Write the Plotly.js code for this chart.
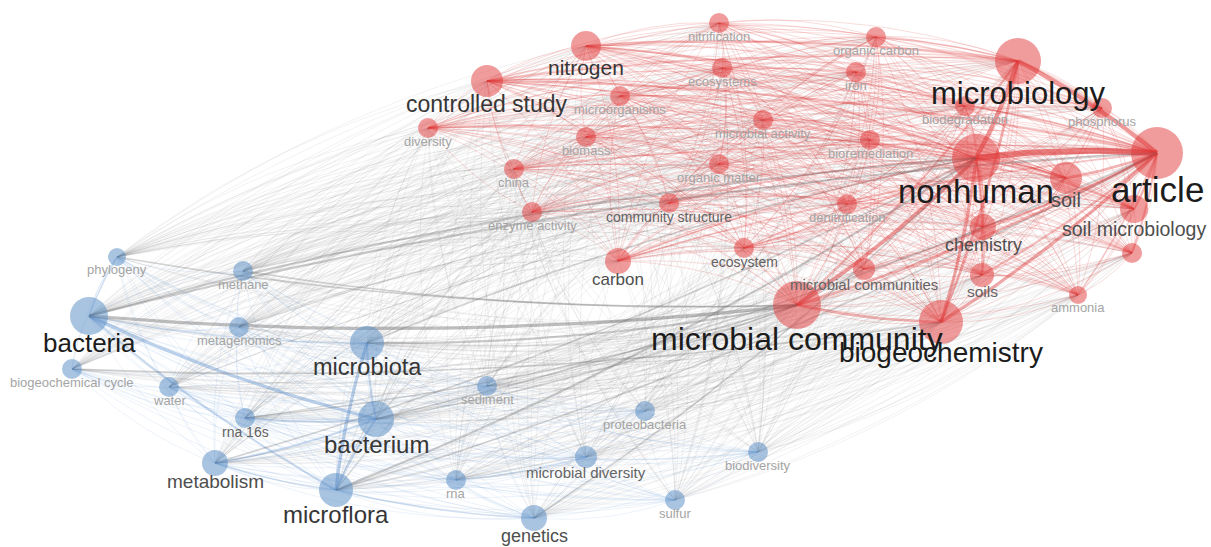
<!DOCTYPE html>
<html><head><meta charset="utf-8">
<script src="https://cdn.plot.ly/plotly-3.0.1.min.js"></script>
<style>html,body{margin:0;padding:0;background:#fff}#chart{width:1211px;height:547px}</style>
</head><body><div id="chart"></div>
<script>
// ---- node data (map coordinates) ----
const labels = ["nitrogen","controlled study","nitrification","organic carbon","microbiology","ecosystems","iron","microorganisms","biodegradation","phosphorus","diversity","biomass","microbial activity","bioremediation","nonhuman","article","organic matter","china","soil","community structure","enzyme activity","denitrification","soil microbiology","chemistry","ecosystem","carbon","","microbial communities","soils","ammonia","microbial community","biogeochemistry",
"phylogeny","methane","bacteria","metagenomics","microbiota","biogeochemical cycle","water","sediment","bacterium","rna 16s","proteobacteria","metabolism","biodiversity","microbial diversity","rna","microflora","sulfur","genetics"];
const mapX = [586,487,719,876,1018,722,856,620,965,1102,428,586,763,870,976,1157,719,514,1066,669,532,847,1134,983,744,618,1132,864,982,1078,797,941,
117,243,89,239,367,72,169,487,376,245,645,215,758,586,456,336,675,534];
const mapY = [46,81,23,37,61,68,72,96,106,108,128,137,120,140,158,153,164,169,178,203,212,204,209,227,248,261,253,269,275,295,305,322,
257,271,316,327,343,369,387,386,419,418,411,463,452,457,480,490,500,518];
const weights = [15,16,10,10,23,10,10,10,10,10,10,10,10,10,24,26,10,10,16,10,10,10,14,13,10,13,10,11,12,9,24,22,
9,10,19,10,17,10,10,10,18,10,10,13,10,11,10,17,10,13];
const clusters = [1,1,1,1,1,1,1,1,1,1,1,1,1,1,1,1,1,1,1,1,1,1,1,1,1,1,1,1,1,1,1,1,
2,2,2,2,2,2,2,2,2,2,2,2,2,2,2,2,2,2];
const labelSizes = [21,23,13,13,31,13,13,13,13,13,13,13,13,13,33,35,13,13,20,14,13,13,19.5,18,14,17,0,15,15.5,13,32,28,
13,13,26,13,23.5,13,13,13,24,14,13,19,13,15,13,24,13,18];

// ---- strong links: source, target, strength ----
const linkSource = ["article","article","microbiology","nonhuman","article","biogeochemistry","biogeochemistry","biogeochemistry","microbial community","microbial community","soil","soil","soil microbiology","soil microbiology","chemistry","chemistry","soils","soils","controlled study","controlled study","controlled study","nitrogen","nitrogen","nitrogen","diversity","china","carbon","carbon","ecosystem","microbial communities","","ammonia","phosphorus","organic carbon","biodegradation","community structure",
"bacteria","bacteria","microbiota","microbiota","bacterium","metabolism","metabolism","rna 16s","microflora","rna","phylogeny","bacteria",
"bacteria","bacteria","bacteria","microbiota","microbiota","microflora","microflora","bacterium","bacterium","metabolism","phylogeny","methane","metagenomics","water","biogeochemical cycle","rna 16s","genetics","sediment"];
const linkTarget = ["nonhuman","microbiology","nonhuman","microbial community","microbial community","nonhuman","article","microbiology","biogeochemistry","microbiology","article","nonhuman","article","nonhuman","nonhuman","article","nonhuman","article","article","nonhuman","microbiology","microbiology","article","nonhuman","nonhuman","article","article","nonhuman","nonhuman","article","article","article","microbiology","microbiology","article","nonhuman",
"bacterium","microflora","microflora","bacterium","microflora","bacterium","microflora","bacterium","genetics","microbial diversity","bacteria","microbiota",
"microbial community","article","nonhuman","microbial community","nonhuman","nonhuman","article","article","microbial community","nonhuman","microbial community","microbial community","nonhuman","nonhuman","biogeochemistry","microbial community","nonhuman","microbial community"];
const linkStrength = [10,7,7,6,4,5,5,4,4,3,4,3,3,3,3,3,3,3,3,2,2,3,2,2,2,2,2,2,2,2,3,2,2,2,2,2,
5,3,5,3,3,3,2,3,2,2,2,2,
5,3,3,3,2,3,2,2,2,2,2,2,1,1,2,2,2,1];

// ---- rendering helpers ----
const N = labels.length;
const idx = {}; labels.forEach((l,i)=>idx[l]=i);
const CX = 620, CY = 280;
function curve(i, j, out, bend){
  const x1=mapX[i], y1=mapY[i], x2=mapX[j], y2=mapY[j];
  const mx=(x1+x2)/2, my=(y1+y2)/2, dx=x2-x1, dy=y2-y1;
  const L=Math.hypot(dx,dy)||1;
  const nx=-dy/L, ny=dx/L, k=bend*L;
  let px=mx+nx*k, py=my+ny*k;
  const qx=mx-nx*k, qy=my-ny*k;
  if (Math.hypot(qx-CX,qy-CY) > Math.hypot(px-CX,py-CY)) { px=qx; py=qy; }
  const S=16;
  for (let s=0;s<=S;s++){
    const t=s/S, a=(1-t)*(1-t), b=2*(1-t)*t, c=t*t;
    out.x.push(a*x1+b*px+c*x2); out.y.push(a*y1+b*py+c*y2);
  }
  out.x.push(null); out.y.push(null);
}
function edgeColor(i,j,alpha){
  if (clusters[i]===1 && clusters[j]===1) return `rgba(222,55,55,${alpha})`;
  if (clusters[i]===2 && clusters[j]===2) return `rgba(95,145,205,${alpha})`;
  return `rgba(105,105,105,${alpha})`;
}

const traces = [];
const bg = {rr:{x:[],y:[]}, bb:{x:[],y:[]}, rb:{x:[],y:[]}};
for (let i=0;i<N;i++) for (let j=i+1;j<N;j++){
  const key = clusters[i]===1&&clusters[j]===1 ? 'rr' : (clusters[i]===2&&clusters[j]===2 ? 'bb' : 'rb');
  curve(i,j,bg[key],0.11);
}
traces.push({type:'scatter',mode:'lines',x:bg.rb.x,y:bg.rb.y,line:{color:'rgba(110,110,110,0.115)',width:0.8},hoverinfo:'skip'});
traces.push({type:'scatter',mode:'lines',x:bg.bb.x,y:bg.bb.y,line:{color:'rgba(95,145,205,0.14)',width:0.8},hoverinfo:'skip'});
traces.push({type:'scatter',mode:'lines',x:bg.rr.x,y:bg.rr.y,line:{color:'rgba(222,55,55,0.19)',width:0.9},hoverinfo:'skip'});

for (let e=0;e<linkSource.length;e++){
  const i=idx[linkSource[e]], j=idx[linkTarget[e]], w=linkStrength[e];
  const o={x:[],y:[]}; curve(i,j,o,0.05);
  traces.push({type:'scatter',mode:'lines',x:o.x,y:o.y,
    line:{color:edgeColor(i,j,Math.min(0.65,0.2+w*0.045)),width:0.5+w*0.55},hoverinfo:'skip'});
}

const nodeColors = clusters.map(c=> c===1 ? 'rgba(226,60,60,0.72)' : 'rgba(92,142,198,0.75)');
traces.push({type:'scatter',mode:'markers',x:mapX,y:mapY,
  marker:{size:weights.map(r=>2*r),color:nodeColors,line:{width:0}},hoverinfo:'skip'});

function textColor(s){ return s>=26 ? '#1c1c1c' : (s>=21 ? '#363636' : (s>=17 ? '#4e4e4e' : (s>=14 ? '#646464' : '#a4a4a4'))); }
const annotations = labels.map((t,i)=>({
  x:mapX[i], y:mapY[i], xref:'x', yref:'y', text:t, showarrow:false,
  xanchor:'center', yanchor:'middle', yshift:-(weights[i]+0.3*labelSizes[i]),
  font:{family:'Liberation Sans, Arial, sans-serif', size:labelSizes[i]||10, color:textColor(labelSizes[i])}
})).filter(a=>a.text);

Plotly.newPlot('chart',traces,{
  width:1211,height:547,margin:{l:0,r:0,t:0,b:0},
  paper_bgcolor:'#fff',plot_bgcolor:'#fff',showlegend:false,hovermode:false,
  xaxis:{range:[0,1211],visible:false,fixedrange:true},
  yaxis:{range:[547,0],visible:false,fixedrange:true},
  annotations
},{displayModeBar:false,staticPlot:true});
</script></body></html>
